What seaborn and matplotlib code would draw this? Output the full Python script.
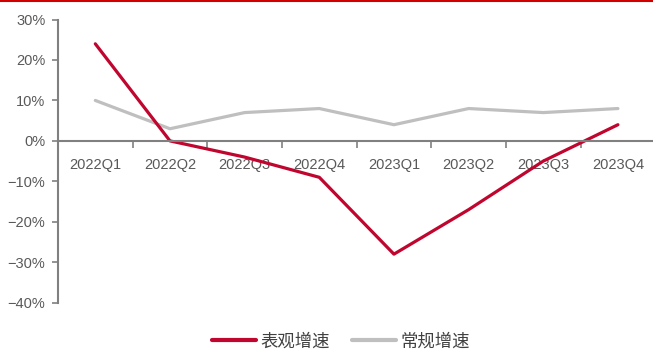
import matplotlib
matplotlib.use("Agg")
import matplotlib.pyplot as plt
import matplotlib.lines as mlines
import numpy as np
import pandas as pd
import seaborn as sns

quarters = ["2022Q1", "2022Q2", "2022Q3", "2022Q4", "2023Q1", "2023Q2", "2023Q3", "2023Q4"]
apparent_growth = [24, 0, -4, -9, -28, -17, -5, 4]   # 表观增速 (%)
regular_growth = [10, 3, 7, 8, 4, 8, 7, 8]           # 常规增速 (%)
y_ticks = [-40, -30, -20, -10, 0, 10, 20, 30]

RED = "#C0062F"
GRAY = "#BFBFBF"
AXIS = "#808080"
TEXT = "#595959"

sns.set_theme(style="white")
plt.rcParams["font.family"] = ["Liberation Sans", "Noto Sans CJK SC", "DejaVu Sans"]

df = pd.DataFrame({
    "quarter": quarters * 2,
    "pos": list(range(len(quarters))) * 2,
    "value": apparent_growth + regular_growth,
    "series": ["表观增速"] * len(quarters) + ["常规增速"] * len(quarters),
})

fig = plt.figure(figsize=(6.53, 3.49), dpi=100)
ax = fig.add_axes([0.0888, 0.1327, 0.9112, 0.8113])

sns.lineplot(data=df, x="pos", y="value", hue="series",
             palette={"表观增速": RED, "常规增速": GRAY},
             hue_order=["常规增速", "表观增速"],
             linewidth=2.3, legend=False, ax=ax)

ax.set_xlim(-0.5, 7.47)
ax.set_ylim(-40, 30)
ax.set_xlabel("")
ax.set_ylabel("")

# y axis
ax.set_yticks(y_ticks)
ax.set_yticklabels([f"{v}%".replace("-", "\u2212") for v in y_ticks])
ax.tick_params(axis="y", which="major", direction="out", length=4, width=1.2,
               color=AXIS, labelcolor=TEXT, labelsize=10.5, pad=5, left=True)

# x axis crosses at zero, tick marks between categories
ax.spines["bottom"].set_position(("data", 0))
ax.set_xticks(range(len(quarters)))
ax.set_xticklabels(quarters)
ax.set_xticks([i + 0.5 for i in range(len(quarters) - 1)], minor=True)
ax.tick_params(axis="x", which="major", length=0, labelcolor=TEXT, labelsize=10.5, pad=12)
ax.tick_params(axis="x", which="minor", direction="out", length=5, width=1.2,
               color=AXIS, bottom=True)

for side in ["top", "right"]:
    ax.spines[side].set_visible(False)
for side in ["left", "bottom"]:
    ax.spines[side].set_color(AXIS)
    ax.spines[side].set_linewidth(1.5)
ax.grid(False)

# legend at the bottom
handles = [mlines.Line2D([], [], color=RED, linewidth=3),
           mlines.Line2D([], [], color=GRAY, linewidth=3)]
fig.legend(handles, ["表观增速", "常规增速"], loc="center", bbox_to_anchor=(0.522, 0.022),
           ncol=2, frameon=False, handlelength=2.55, handletextpad=0.25, columnspacing=1.25,
           prop={"family": ["Noto Sans CJK SC"], "size": 12.5}, labelcolor="#404040")

# red rule along the top edge
fig.add_artist(mlines.Line2D([0, 1], [0.998, 0.998], transform=fig.transFigure,
                             color="#D00000", linewidth=1.5))

fig.savefig("out.png", dpi=100)
